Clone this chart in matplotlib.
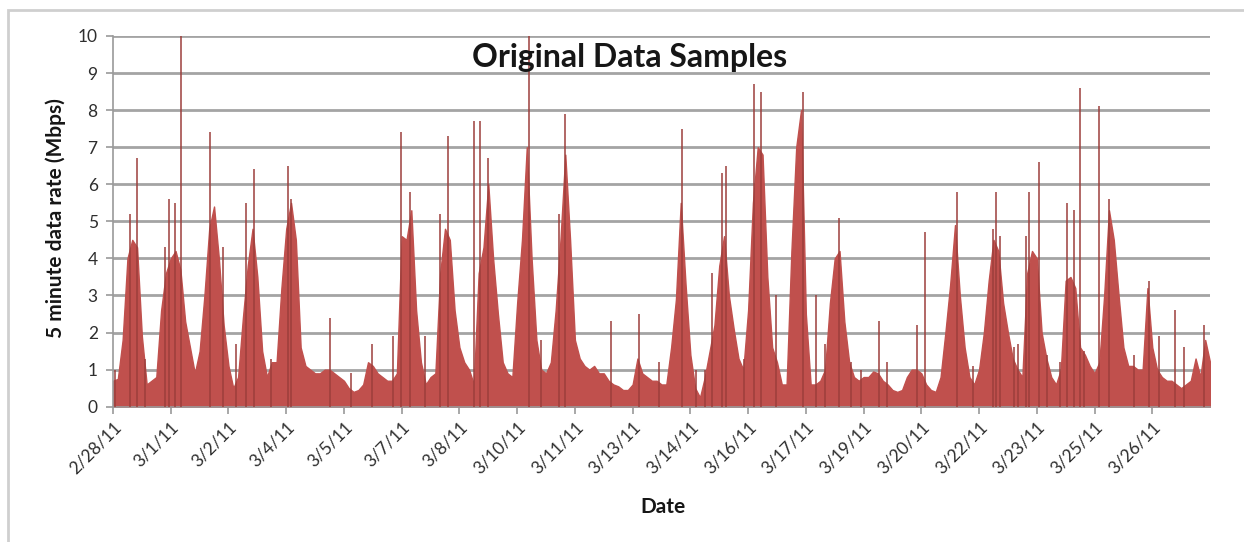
import matplotlib
matplotlib.use('Agg')
import matplotlib.pyplot as plt
import numpy as np
from matplotlib.patches import Rectangle

plt.rcParams['font.family'] = ['Lato', 'DejaVu Sans']

# 5 minute rate at 12 points per tick interval (Mbps)
rate = [
    0.7, 0.75, 1.8, 4.0, 4.5, 4.3, 1.9, 0.6, 0.7, 0.8, 2.6, 3.6,   # 2/28
    4.0, 4.2, 3.7, 2.3, 1.6, 0.9, 1.5, 3.0, 4.8, 5.4, 4.0, 2.2,    # 3/1
    1.1, 0.5, 0.8, 2.4, 3.8, 4.8, 3.5, 1.5, 0.8, 1.2, 1.2, 3.2,    # 3/2
    4.8, 5.5, 4.5, 1.6, 1.1, 1.0, 0.9, 0.9, 1.0, 1.0, 0.9, 0.8,    # 3/4
    0.7, 0.5, 0.4, 0.45, 0.6, 1.2, 1.1, 0.9, 0.8, 0.7, 0.7, 0.9,   # 3/5
    4.6, 4.5, 5.3, 2.6, 1.2, 0.6, 0.8, 0.9, 3.6, 4.8, 4.5, 2.6,    # 3/7
    1.6, 1.2, 1.0, 0.6, 3.6, 4.3, 6.0, 4.0, 2.5, 1.2, 0.9, 0.8,    # 3/8
    2.8, 4.5, 7.0, 4.0, 1.8, 1.0, 0.9, 1.2, 2.6, 4.5, 6.8, 4.5,    # 3/10
    1.8, 1.3, 1.1, 1.0, 1.1, 0.9, 0.9, 0.7, 0.6, 0.55, 0.45, 0.45, # 3/11
    0.6, 1.3, 0.9, 0.8, 0.7, 0.7, 0.6, 0.6, 1.6, 2.9, 5.5, 3.3,    # 3/13
    1.4, 0.5, 0.25, 0.8, 1.5, 2.2, 3.8, 4.6, 3.0, 2.1, 1.3, 1.0,   # 3/14
    2.6, 5.5, 7.0, 6.8, 3.5, 1.6, 1.2, 0.6, 0.6, 4.2, 7.0, 8.0,    # 3/16
    2.5, 0.6, 0.6, 0.7, 1.0, 2.8, 4.0, 4.2, 2.3, 1.2, 0.8, 0.7,    # 3/17
    0.8, 0.8, 0.95, 0.9, 0.7, 0.6, 0.45, 0.4, 0.45, 0.8, 1.0, 1.0, # 3/19
    0.9, 0.6, 0.45, 0.4, 0.8, 2.0, 3.3, 4.9, 3.0, 1.6, 0.8, 0.6,   # 3/20
    1.0, 2.0, 3.4, 4.5, 4.2, 2.8, 2.0, 1.3, 1.0, 0.8, 3.6, 4.2,    # 3/22
    4.0, 2.0, 1.3, 0.8, 0.6, 1.0, 3.4, 3.5, 3.2, 1.6, 1.4, 1.1,    # 3/23
    0.9, 1.2, 3.0, 5.3, 4.5, 3.0, 1.6, 1.1, 1.1, 1.0, 1.0, 3.2,    # 3/25
    1.6, 1.0, 0.8, 0.7, 0.7, 0.6, 0.5, 0.6, 0.7, 1.3, 0.8, 1.8,    # 3/26
    1.2,
]

# single-sample bursts (position in tick intervals, Mbps)
spike_pos = [0.04, 0.29, 0.42, 0.56, 0.905, 0.97, 1.07, 1.17, 1.68, 1.90,
             2.13, 2.31, 2.44, 2.73, 3.03, 3.08, 3.75, 4.13, 4.48, 4.85,
             4.98, 5.15, 5.40, 5.67, 5.81, 6.26, 6.36, 6.49, 7.20, 7.42,
             7.73, 7.82, 8.63, 9.11, 9.45, 9.86, 10.10, 10.25, 10.37, 10.54,
             10.61, 10.93, 11.10, 11.23, 11.49, 11.95, 12.17, 12.34, 12.58, 12.79,
             12.96, 13.26, 13.41, 13.93, 14.06, 14.61, 14.89, 15.24, 15.30, 15.37,
             15.60, 15.67, 15.81, 15.86, 16.03, 16.18, 16.40, 16.53, 16.64, 16.75,
             16.82, 17.08, 17.25, 17.68, 17.94, 18.11, 18.40, 18.55, 18.90]
spike_val = [1.0, 5.2, 6.7, 1.3, 4.3, 5.6, 5.5, 10.0, 7.4, 4.3,
             1.7, 5.5, 6.4, 1.3, 6.5, 5.6, 2.4, 0.9, 1.7, 1.9,
             7.4, 5.8, 1.9, 5.2, 7.3, 7.7, 7.7, 6.7, 10.0, 1.8,
             5.2, 7.9, 2.3, 2.5, 1.2, 7.5, 1.0, 1.0, 3.6, 6.3,
             6.5, 1.3, 8.7, 8.5, 3.0, 8.5, 3.0, 1.7, 5.1, 1.2,
             1.0, 2.3, 1.2, 2.2, 4.7, 5.8, 1.1, 4.8, 5.8, 4.6,
             1.6, 1.7, 4.6, 5.8, 6.6, 1.4, 1.2, 5.5, 5.3, 8.6,
             1.5, 8.1, 5.6, 1.4, 3.4, 1.9, 2.6, 1.6, 2.2]

tick_labels = ['2/28/11', '3/1/11', '3/2/11', '3/4/11', '3/5/11', '3/7/11',
               '3/8/11', '3/10/11', '3/11/11', '3/13/11', '3/14/11', '3/16/11',
               '3/17/11', '3/19/11', '3/20/11', '3/22/11', '3/23/11', '3/25/11',
               '3/26/11']

W, H = 1244, 542
fig = plt.figure(figsize=(W / 100, H / 100), dpi=100)
fig.patches.append(Rectangle((8 / W, -0.1), 1.2, 1.1 - 10 / H, transform=fig.transFigure,
                             fill=False, ec='#cfcfcf', lw=2))

ax = fig.add_axes([113 / W, (H - 406.7) / H, 1097 / W, 370.7 / H])

red = '#c0504d'
x = np.arange(len(rate)) / 12.0
ax.fill_between(x, 0, rate, color=red, ec=red, lw=1.0, zorder=2)
ax.vlines(spike_pos, 0, spike_val, color='#9c3f3c', lw=1.1, zorder=3)

ax.set_xlim(0, 19)
ax.set_ylim(0, 10)
ax.set_yticks(range(0, 11))
ax.set_xticks(range(len(tick_labels)))
ax.set_xticklabels(tick_labels, rotation=45, ha='right', rotation_mode='anchor')
ax.grid(axis='y', color='#a4a4a4', lw=2, zorder=0)
ax.set_axisbelow(True)

for s in ['top', 'right']:
    ax.spines[s].set_visible(False)
for s in ['left', 'bottom']:
    ax.spines[s].set_color('#9a9a9a')
    ax.spines[s].set_linewidth(1.2)
ax.tick_params(axis='both', colors='#9a9a9a', length=5, width=1.2, labelcolor='#2e2e2e',
               labelsize=12.5)
ax.tick_params(axis='x', pad=4)
ax.tick_params(axis='y', pad=6)

fig.text(630 / W, 1 - 57 / H, 'Original Data Samples', ha='center', va='center',
         fontsize=23, fontweight='bold', color='#161616')
fig.text(56 / W, 1 - 218 / H, '5 minute data rate (Mbps)', rotation=90, ha='center',
         va='center', fontsize=15, fontweight='bold', color='#161616')
fig.text(663 / W, 1 - 507 / H, 'Date', ha='center', va='center', fontsize=15,
         fontweight='bold', color='#161616')

fig.savefig('out.png', dpi=100)
